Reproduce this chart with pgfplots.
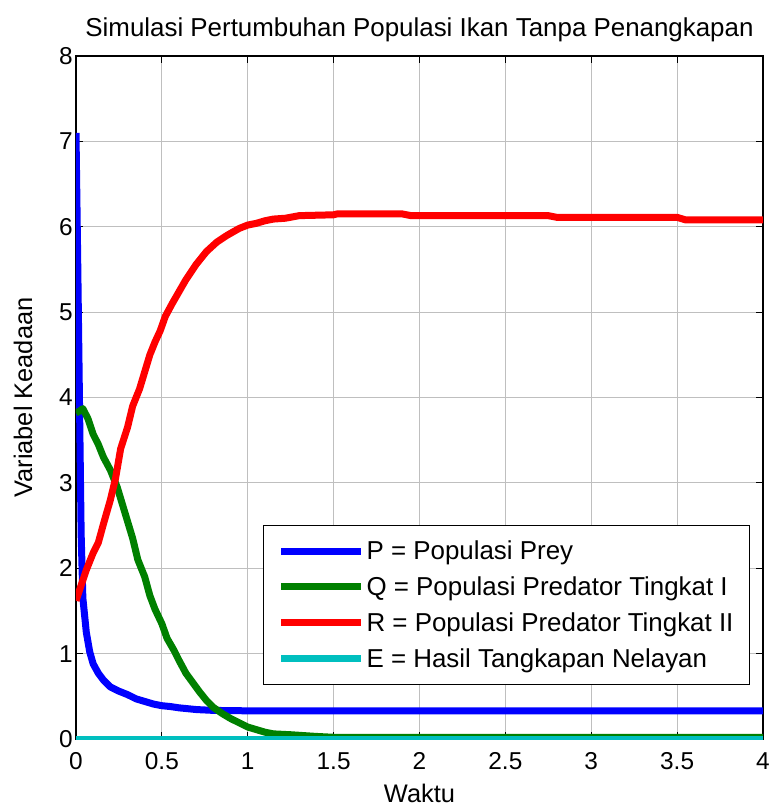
\documentclass[border=0pt]{standalone}
\usepackage{fontspec}
\setmainfont{Liberation Sans}
\usepackage{pgfplots}
\pgfplotsset{compat=1.18}

\definecolor{mblue}{RGB}{0,0,255}
\definecolor{mgreen}{RGB}{0,128,0}
\definecolor{mred}{RGB}{255,0,0}
\definecolor{mcyan}{RGB}{0,191,191}

\begin{document}
\begin{tikzpicture}
\begin{axis}[
  scale only axis,
  width=687bp, height=683bp,
  xmin=0, xmax=4, ymin=0, ymax=8,
  xtick={0,0.5,...,4}, ytick={0,1,...,8},
  /pgf/number format/assume math mode=true,
  ticklabel style={font=\fontsize{24.5}{28}\selectfont},
  yticklabel style={inner sep=3bp},
  xticklabel style={yshift=-10bp},
  tick align=inside,
  major tick length=7bp,
  tick style={black, line width=1bp},
  axis line style={black, line width=1.3bp},
  grid=major,
  major grid style={gray!50, line width=0.9bp},
  title={Simulasi Pertumbuhan Populasi Ikan Tanpa Penangkapan},
  title style={font=\fontsize{26}{30}\selectfont, at={(axis description cs:0.5,1.03)}, anchor=center, inner sep=0pt},
  xlabel={Waktu},
  ylabel={Variabel Keadaan},
  xlabel style={font=\fontsize{25.5}{30}\selectfont, at={(axis description cs:0.5,-0.066)}, anchor=north, inner sep=0pt},
  ylabel style={font=\fontsize{25.5}{30}\selectfont, at={(axis description cs:-0.077,0.5)}, anchor=center, inner sep=0pt},
  legend style={at={(0.981,0.079)}, anchor=south east, draw=black, line width=1bp,
    font=\fontsize{26}{31}\selectfont, cells={anchor=west}, row sep=11.5bp,
    inner xsep=14bp, inner ysep=14bp},
  legend image code/.code={\draw[#1, line width=7bp] (0bp,0bp) -- (80bp,0bp);},
  every axis plot/.append style={line width=7bp, line join=round},
]
\addplot[mblue] table {
x y
0 7.10
0.01 5.6
0.02 4.0
0.03 2.4
0.04 1.65
0.06 1.25
0.08 1.02
0.10 0.88
0.13 0.77
0.16 0.69
0.20 0.61
0.25 0.56
0.30 0.52
0.35 0.47
0.40 0.44
0.45 0.41
0.50 0.39
0.55 0.38
0.60 0.365
0.70 0.345
0.80 0.335
1.00 0.33
4.00 0.33
};
\addlegendentry{P = Populasi Prey}
\addplot[mgreen] table {
x y
0 3.82
0.02 3.84
0.04 3.87
0.07 3.75
0.10 3.57
0.13 3.45
0.16 3.30
0.20 3.15
0.24 2.95
0.27 2.75
0.30 2.55
0.33 2.35
0.36 2.10
0.40 1.90
0.43 1.68
0.46 1.52
0.50 1.35
0.53 1.18
0.57 1.04
0.60 0.92
0.64 0.77
0.68 0.66
0.72 0.55
0.76 0.45
0.80 0.37
0.85 0.30
0.90 0.24
0.95 0.19
1.00 0.14
1.05 0.11
1.10 0.08
1.15 0.06
1.25 0.05
1.40 0.03
1.50 0.02
4.00 0.02
};
\addlegendentry{Q = Populasi Predator Tingkat I}
\addplot[mred] table {
x y
0 1.62
0.03 1.80
0.06 1.98
0.10 2.18
0.13 2.30
0.16 2.52
0.20 2.80
0.23 3.05
0.26 3.40
0.30 3.65
0.33 3.90
0.37 4.10
0.40 4.30
0.43 4.50
0.46 4.65
0.49 4.78
0.52 4.95
0.56 5.10
0.60 5.24
0.64 5.38
0.70 5.56
0.76 5.71
0.82 5.82
0.88 5.90
0.95 5.98
1.00 6.02
1.05 6.04
1.10 6.07
1.15 6.09
1.22 6.10
1.30 6.13
1.50 6.14
1.52 6.15
1.90 6.15
1.95 6.13
2.75 6.13
2.80 6.11
3.50 6.11
3.55 6.08
4.00 6.08
};
\addlegendentry{R = Populasi Predator Tingkat II}
\addplot[mcyan] table {
x y
0 0
4 0
};
\addlegendentry{E = Hasil Tangkapan Nelayan}
\coordinate (bl) at (rel axis cs:0,0);
\coordinate (tr) at (rel axis cs:1,1);
\end{axis}
\pgfresetboundingbox
\path[use as bounding box] ([shift={(-76bp,-70bp)}]bl) rectangle ([shift={(9bp,56bp)}]tr);
\end{tikzpicture}
\end{document}
